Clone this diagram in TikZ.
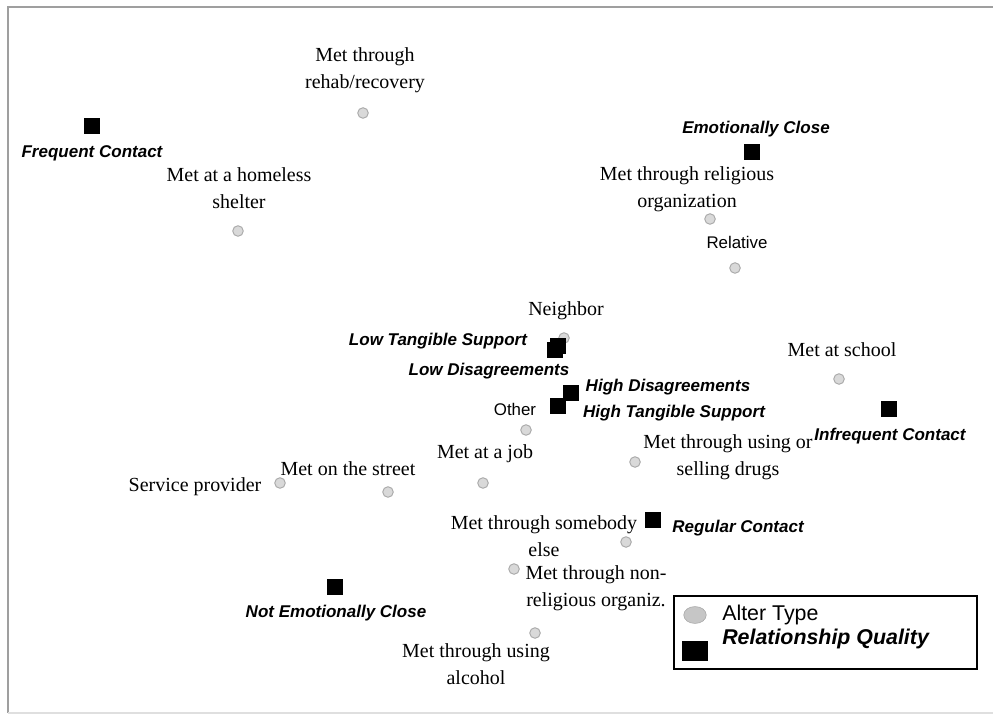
\documentclass[tikz,border=0pt]{standalone}
\usepackage{fontspec}
\setmainfont{Liberation Serif}
\setsansfont{Liberation Sans}
\usetikzlibrary{positioning}
\usetikzlibrary{shapes.geometric}

\begin{document}
\begin{tikzpicture}[x=0.025cm,y=-0.025cm]
	\tikzstyle{alter} = [draw=gray!65,fill=gray!30,circle,inner sep=0pt,minimum size=7.5pt,line width=0.7pt]
	\tikzstyle{quality} = [fill=black,rectangle,inner sep=0pt,minimum size=11pt]
	\tikzstyle{atype} = [inner sep=0pt,align=center,font=\fontsize{14.2}{19.2}\selectfont]
	\tikzstyle{atypesf} = [inner sep=0pt,font=\sffamily\fontsize{12}{14}\selectfont]
	\tikzstyle{qtext} = [inner sep=0pt,font=\sffamily\bfseries\itshape\fontsize{12.1}{14}\selectfont]

	\useasboundingbox (0,0) rectangle (993,715);
	\draw[gray!75,line width=1.1pt] (993,7) -- (8,7) -- (8,713);
	\draw[gray!25,line width=0.8pt] (8,713) -- (993,713);

	% alter types
	\node[alter] at (363,113) (rehab) {};
	\node[alter] at (238,231) (shelter) {};
	\node[alter] at (710,219) (relig) {};
	\node[alter] at (735,268) (relative) {};
	\node[alter] at (564,338) (neighbor) {};
	\node[alter] at (839,379) (school) {};
	\node[alter] at (526,430) (other) {};
	\node[alter] at (635,462) (drugs) {};
	\node[alter] at (483,483) (job) {};
	\node[alter] at (280,483) (service) {};
	\node[alter] at (388,492) (street) {};
	\node[alter] at (626,542) (somebody) {};
	\node[alter] at (514,569) (nonrelig) {};
	\node[alter] at (535,633) (alcohol) {};

	% relationship quality
	\node[quality] at (92,126) (freq) {};
	\node[quality] at (752,152) (close) {};
	\node[quality] at (558,346) (lowtang) {};
	\node[quality] at (555,350) (lowdis) {};
	\node[quality] at (571,393) (highdis) {};
	\node[quality] at (558,406) (hightang) {};
	\node[quality] at (889,409) (infreq) {};
	\node[quality] at (653,520) (regular) {};
	\node[quality] at (335,587) (notclose) {};

	% labels
	\node[atype] at (365,70) (rehab-l) {Met through\\rehab/recovery};
	\node[qtext] at (92,153) (freq-l) {Frequent Contact};
	\node[atype] at (239,188) (shelter-l) {Met at a homeless\\shelter};
	\node[qtext] at (756,129) (close-l) {Emotionally Close};
	\node[atype] at (687,189) (relig-l) {Met through religious\\organization};
	\node[atypesf] at (737,242) (relative-l) {Relative};
	\node[atype] at (566,311) (neighbor-l) {Neighbor};
	\node[qtext] at (438,341) (lowtang-l) {Low Tangible Support};
	\node[qtext] at (489,371) (lowdis-l) {Low Disagreements};
	\node[atype] at (842,350) (school-l) {Met at school};
	\node[qtext] at (668,387) (highdis-l) {High Disagreements};
	\node[qtext] at (674,413) (hightang-l) {High Tangible Support};
	\node[atypesf] at (515,409) (other-l) {Other};
	\node[qtext] at (890,436) (infreq-l) {Infrequent Contact};
	\node[atype] at (728,457) (drugs-l) {Met through using or\\selling drugs};
	\node[atype] at (485,454) (job-l) {Met at a job};
	\node[atype] at (348,469) (street-l) {Met on the street};
	\node[atype] at (195,487) (service-l) {Service provider};
	\node[atype] at (544,536) (somebody-l) {Met through somebody\\else};
	\node[qtext] at (738,528) (regular-l) {Regular Contact};
	\node[atype] at (596,588) (nonrelig-l) {Met through non-\\religious organiz.};
	\node[qtext] at (336,613) (notclose-l) {Not Emotionally Close};
	\node[atype] at (476,664) (alcohol-l) {Met through using\\alcohol};

	% legend
	\node[draw,line width=1.1pt,inner sep=0pt,minimum width=7.575cm,minimum height=1.825cm] at (825.5,632.5) (legend) {};
	\node[ellipse,draw=gray!70,fill=gray!45,inner sep=0pt,minimum width=16pt,minimum height=12pt] at (695,615) (key-alter) {};
	\node[fill=black,inner sep=0pt,minimum width=18.5pt,minimum height=14pt] at (695,651) (key-quality) {};
	\node[anchor=west,inner sep=0pt,font=\sffamily\fontsize{15.2}{17}\selectfont] at (722,615) (key-alter-l) {Alter Type};
	\node[anchor=west,inner sep=0pt,font=\sffamily\bfseries\itshape\fontsize{15.2}{17}\selectfont] at (722,639) (key-quality-l) {Relationship Quality};
\end{tikzpicture}
\end{document}
